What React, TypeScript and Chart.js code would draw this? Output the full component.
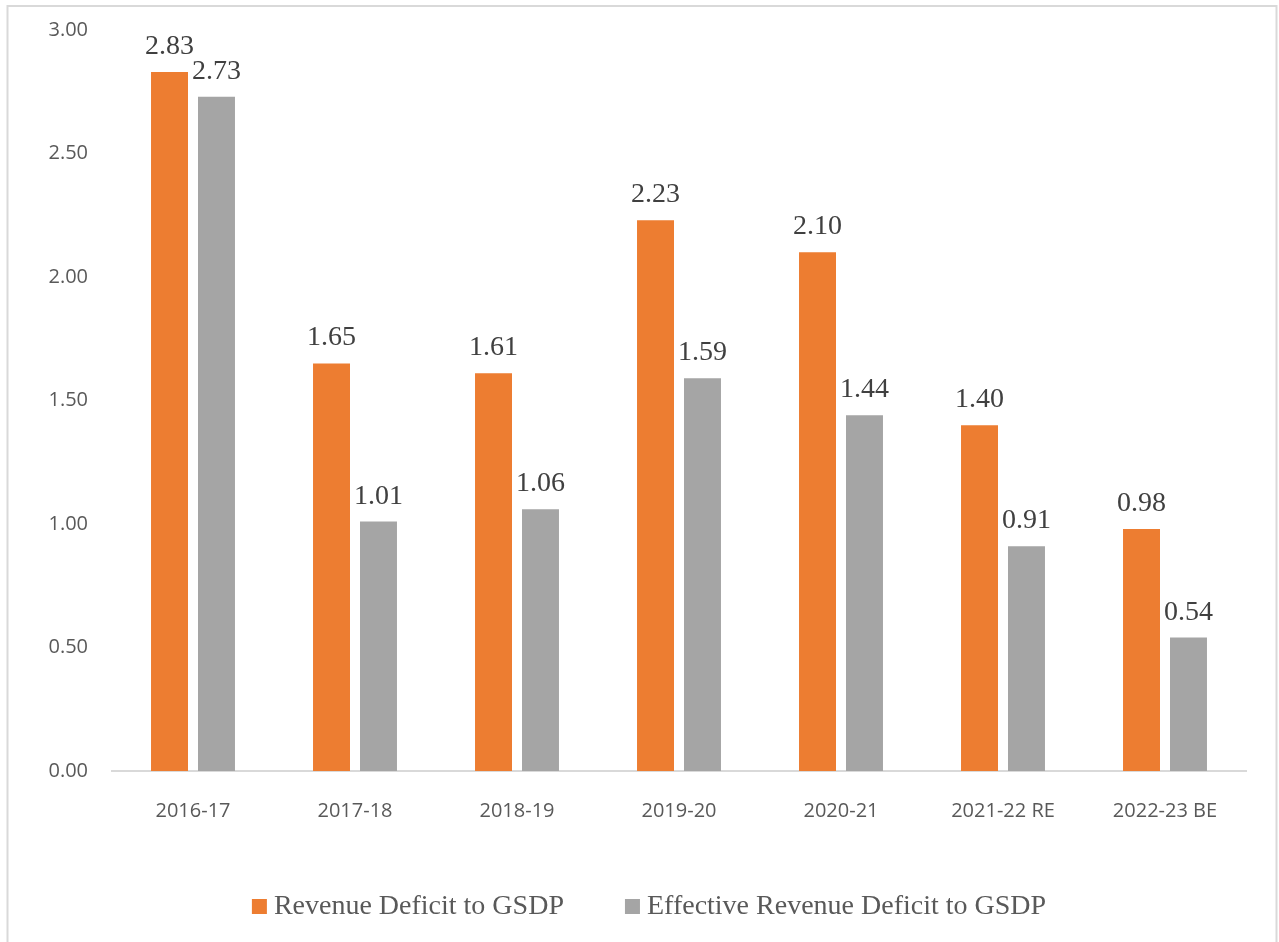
import React, { useEffect, useRef } from "react";
import { Chart, registerables } from "chart.js";

Chart.register(...registerables);

const categories = ["2016-17", "2017-18", "2018-19", "2019-20", "2020-21", "2021-22 RE", "2022-23 BE"];
const revenueDeficit = [2.83, 1.65, 1.61, 2.23, 2.1, 1.4, 0.98];
const effectiveRevenueDeficit = [2.73, 1.01, 1.06, 1.59, 1.44, 0.91, 0.54];
const seriesNames = ["Revenue Deficit to GSDP", "Effective Revenue Deficit to GSDP"];
const seriesColors = ["#ED7D31", "#A5A5A5"];
const yTicks = [0, 0.5, 1, 1.5, 2, 2.5, 3];

const W = 1279;
const H = 942;
const SERIF = "'Liberation Serif', 'DejaVu Serif', serif";
const SANS = "'Open Sans', 'Liberation Sans', sans-serif";

const framePlugin = {
  id: "frame",
  beforeDraw(chart: any) {
    const ctx = chart.ctx;
    ctx.save();
    ctx.fillStyle = "#ffffff";
    ctx.fillRect(0, 0, W, H);
    ctx.strokeStyle = "#d9d9d9";
    ctx.lineWidth = 2;
    ctx.strokeRect(7.5, 6, 1269, 1000);
    ctx.restore();
  },
};

const dataLabelPlugin = {
  id: "dataLabels",
  afterDatasetsDraw(chart: any) {
    const ctx = chart.ctx;
    ctx.save();
    ctx.font = `28px ${SERIF}`;
    ctx.fillStyle = "#404040";
    ctx.textAlign = "center";
    ctx.textBaseline = "alphabetic";
    chart.data.datasets.forEach((ds: any, di: number) => {
      const meta = chart.getDatasetMeta(di);
      meta.data.forEach((el: any, i: number) => {
        const v = ds.data[i] as number;
        ctx.fillText(v.toFixed(2), el.x, el.y - 18);
      });
    });
    ctx.restore();
  },
};

const legendPlugin = {
  id: "customLegend",
  afterDraw(chart: any) {
    const ctx = chart.ctx;
    ctx.save();
    ctx.font = `28px ${SERIF}`;
    ctx.textBaseline = "alphabetic";
    ctx.textAlign = "left";
    const box = 15;
    const boxGap = 7;
    const itemGap = 61;
    const items = chart.data.datasets.map((ds: any) => ({
      label: ds.label,
      color: ds.backgroundColor,
      w: ctx.measureText(ds.label).width,
    }));
    let total = 0;
    items.forEach((it: any, i: number) => {
      total += box + boxGap + it.w + (i < items.length - 1 ? itemGap : 0);
    });
    let x = 649 - total / 2;
    const baseY = 914;
    items.forEach((it: any) => {
      ctx.fillStyle = it.color;
      ctx.fillRect(x, baseY - box, box, box);
      x += box + boxGap;
      ctx.fillStyle = "#595959";
      ctx.fillText(it.label, x, baseY);
      x += it.w + itemGap;
    });
    ctx.restore();
  },
};

export default function App() {
  const ref = useRef<HTMLCanvasElement | null>(null);

  useEffect(() => {
    if (!ref.current) return;
    const chart = new Chart(ref.current, {
      type: "bar",
      data: {
        labels: categories,
        datasets: [
          {
            label: seriesNames[0],
            data: revenueDeficit,
            backgroundColor: seriesColors[0],
            categoryPercentage: 0.58,
            barPercentage: 0.787,
          },
          {
            label: seriesNames[1],
            data: effectiveRevenueDeficit,
            backgroundColor: seriesColors[1],
            categoryPercentage: 0.58,
            barPercentage: 0.787,
          },
        ],
      },
      options: {
        responsive: false,
        animation: false,
        devicePixelRatio: 1,
        layout: { padding: { top: 30, right: 33, left: 0, bottom: 0 } },
        plugins: {
          legend: { display: false },
          tooltip: { enabled: false },
        },
        scales: {
          x: {
            grid: { display: false, drawTicks: false },
            border: { display: true, color: "#d9d9d9", width: 2 },
            ticks: {
              color: "#595959",
              font: { family: SANS, size: 20 },
              padding: 28,
              maxRotation: 0,
              autoSkip: false,
            },
            afterFit(scale: any) {
              scale.height = 171;
              scale.paddingLeft = 0;
              scale.paddingRight = 0;
            },
          },
          y: {
            min: 0,
            max: 3,
            grid: { display: false, drawTicks: false },
            border: { display: false },
            afterBuildTicks(scale: any) {
              scale.ticks = yTicks.map((v) => ({ value: v }));
            },
            ticks: {
              color: "#595959",
              font: { family: SANS, size: 20 },
              padding: 24,
              callback: (v: any) => Number(v).toFixed(2),
            },
            afterFit(scale: any) {
              scale.width = 112;
              scale.paddingTop = 0;
              scale.paddingBottom = 0;
            },
          },
        },
      },
      plugins: [framePlugin, dataLabelPlugin, legendPlugin],
    });
    return () => chart.destroy();
  }, []);

  return (
    <div style={{ position: "absolute", left: 0, top: 0, width: W, height: H }}>
      <canvas ref={ref} width={W} height={H} style={{ display: "block" }} />
    </div>
  );
}
